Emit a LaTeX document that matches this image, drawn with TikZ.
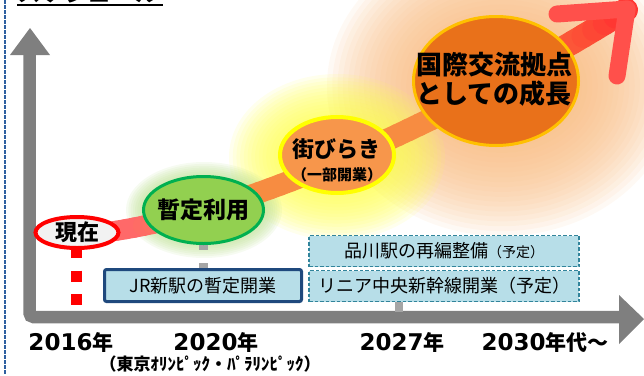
\documentclass[tikz,border=0pt]{standalone}
\usepackage{fontspec}
\setmainfont{DejaVu Sans}
\newfontfamily\jp{Noto Sans CJK JP}
\newfontfamily\dv{DejaVu Sans}
\usetikzlibrary{shapes.geometric}

\definecolor{axisgray}{RGB}{127,127,127}
\definecolor{tickgray}{RGB}{165,165,165}
\definecolor{boxfill}{RGB}{183,222,232}
\definecolor{boxdark}{RGB}{31,73,125}
\definecolor{boxteal}{RGB}{49,132,155}
\definecolor{leftdash}{RGB}{46,95,160}
\definecolor{nowred}{RGB}{255,0,0}
\definecolor{nowfill}{RGB}{242,242,242}
\definecolor{tmpgreen}{RGB}{0,176,80}
\definecolor{tmpfill}{RGB}{146,208,80}
\definecolor{openyellow}{RGB}{255,255,0}
\definecolor{openfill}{RGB}{247,150,75}
\definecolor{intlgold}{RGB}{255,192,0}
\definecolor{intlfill}{RGB}{233,113,26}
\definecolor{bandA}{RGB}{255,105,105}
\definecolor{bandB}{RGB}{247,140,65}
\definecolor{bandC}{RGB}{255,55,50}
\definecolor{headc}{RGB}{255,80,75}
\definecolor{glowpeach}{RGB}{248,185,125}
\definecolor{glowyellow}{RGB}{255,255,80}
\definecolor{glowgreen}{RGB}{185,222,140}

\begin{document}
\begin{tikzpicture}[x=1pt,y=-1pt,
  axisline/.style={axisgray, line width=12.5pt, rounded corners=4pt},
  tickline/.style={tickgray, line width=8pt},
  jptext/.style={font={\jp\bfseries\fontsize{#1}{#1}\selectfont}, inner sep=0pt},
  yearlbl/.style={anchor=base, inner sep=0pt},
  solidbox/.style={draw=boxdark, line width=3pt, fill=boxfill, rounded corners=2pt, inner sep=0pt},
  dashbox/.style={draw=boxteal, line width=1.4pt, dash pattern=on 3.5pt off 2pt, fill=boxfill, inner sep=0pt, minimum width=270pt, minimum height=31pt},
  bubble/.style={ellipse, inner sep=0pt},
]
\useasboundingbox (0,0) rectangle (644,375);
\clip (0,0) rectangle (644,375);

% title (cut off at the top) and left dashed border
\node[anchor=base west, inner sep=0pt, font={\jp\bfseries\fontsize{24}{24}\selectfont}] (title) at (17,1.5) {スケジュール};
\coordinate (ulA) at (17,5);
\coordinate (ulB) at (163,5);
\draw[line width=1.5pt] (ulA) -- (ulB);
\coordinate (bdA) at (5,0);
\coordinate (bdB) at (5,375);
\draw[leftdash, line width=1.5pt, dash pattern=on 3.5pt off 1.5pt] (bdA) -- (bdB);

% axes
\coordinate (ytop) at (29.5,53);
\coordinate (origin) at (29.5,317);
\coordinate (xend) at (621,317);
\draw[axisline] (ytop) -- (origin) -- (xend);
\fill[axisgray] (30,28) -- (50,55) -- (10,55) -- cycle;
\fill[axisgray] (644,319) -- (619,295) -- (619,344) -- cycle;

% soft glows (stacked translucent rings)
\foreach \i in {0,...,18}{
  \pgfmathsetmacro{\grx}{80+95*\i/18}
  \pgfmathsetmacro{\gry}{62+88*\i/18}
  \fill[glowpeach, fill opacity=0.085] (502,86) ellipse [x radius=\grx pt, y radius=\gry pt];
}
\foreach \i in {0,...,14}{
  \pgfmathsetmacro{\grx}{56+52*\i/14}
  \pgfmathsetmacro{\gry}{37+46*\i/14}
  \fill[glowyellow, fill opacity=0.1] (337,157) ellipse [x radius=\grx pt, y radius=\gry pt];
}
\foreach \i in {0,...,8}{
  \pgfmathsetmacro{\grx}{60+18*\i/8}
  \pgfmathsetmacro{\gry}{33+15*\i/8}
  \fill[glowgreen, fill opacity=0.12] (204,210) ellipse [x radius=\grx pt, y radius=\gry pt];
}

% growth band (cubic Bezier sampled, coloured segment by segment)
\foreach \k in {0,...,50}{
  \pgfmathsetmacro{\bt}{\k/50}
  \pgfmathsetmacro{\bu}{1-\bt}
  \pgfmathsetmacro{\bx}{\bu*\bu*\bu*108+3*\bu*\bu*\bt*250+3*\bu*\bt*\bt*450+\bt*\bt*\bt*626}
  \pgfmathsetmacro{\by}{\bu*\bu*\bu*232+3*\bu*\bu*\bt*212+3*\bu*\bt*\bt*120+\bt*\bt*\bt*10}
  \coordinate (bp\k) at (\bx,\by);
}
\foreach \k [remember=\k as \kp (initially 0)] in {1,...,50}{
  \ifnum\k<5 \colorlet{segc}{bandA}%
  \else\ifnum\k<17 \pgfmathtruncatemacro{\bpc}{100-(\k-4)*100/12}\colorlet{segc}{bandA!\bpc!bandB}%
  \else\ifnum\k<40 \colorlet{segc}{bandB}%
  \else \pgfmathtruncatemacro{\bpc}{(\k-39)*100/11}\colorlet{segc}{bandC!\bpc!bandB}\fi\fi\fi
  \pgfmathsetmacro{\bwd}{20+\k*0.08}
  \draw[segc, line width=\bwd pt, line cap=round] (bp\kp) -- (bp\k);
}
\coordinate (tip) at (627,9);
\coordinate (tipL) at (557,14);
\coordinate (tipD) at (617,76);
\draw[headc, line width=17pt, line cap=round] (tipL) -- (tip);
\draw[headc, line width=17pt, line cap=round] (tip) -- (tipD);

% ticks
\coordinate (t20a) at (203,244);
\coordinate (t20b) at (203,270);
\draw[tickline, line width=9pt, dash pattern=on 6pt off 13pt] (t20a) -- (t20b);
\coordinate (t27a) at (399,300);
\coordinate (t27b) at (399,312);
\draw[tickline] (t27a) -- (t27b);

% red dotted line from now
\coordinate (nowend) at (76,306);
\coordinate (nowstart) at (76,247);
\draw[nowred, line width=11pt, dash pattern=on 11pt off 12.5pt] (nowstart) -- (nowend);

% milestone bubbles
\node[bubble, draw=nowred, line width=4pt, fill=nowfill, minimum width=83pt, minimum height=31pt] (now) at (77,232.5) {};
\node[jptext=22] (nowtxt) at (now.center) {現在};

\node[bubble, draw=tmpgreen, line width=3pt, fill=tmpfill, minimum width=120pt, minimum height=67pt] (tmp) at (203.5,210) {};
\node[jptext=23] (tmptxt) at (tmp.center) {暫定利用};

\node[bubble, draw=openyellow, line width=4pt, fill=openfill, minimum width=114pt, minimum height=76pt] (open) at (337,155) {};
\node[jptext=22] (opentxt) at (336,149) {街びらき};
\node[jptext=15] (opensub) at (337,175) {（一部開業）};

\node[bubble, draw=intlgold, line width=3pt, fill=intlfill, minimum width=165pt, minimum height=129pt] (intl) at (496,81) {};
\node[jptext=26] (intltxt1) at (494,65) {国際交流拠点};
\node[jptext=26] (intltxt2) at (494,94) {としての成長};

% boxes
\node[solidbox, minimum width=197pt, minimum height=32pt] (jrbox) at (203,285.5)
  {\jp\fontsize{18}{18}\selectfont JR新駅の暫定開業};
\node[dashbox] (shbox) at (444,251)
  {\jp\fontsize{18}{18}\selectfont 品川駅の再編整備{\fontsize{14}{14}\selectfont （予定）}};
\node[dashbox] (linbox) at (444,286)
  {\jp\fontsize{18}{18}\selectfont リニア中央新幹線開業（予定）};

% year labels
\node[yearlbl] (y2016) at (71,350) {{\dv\bfseries\fontsize{23}{23}\selectfont 2016}{\jp\bfseries\fontsize{21}{21}\selectfont 年}};
\node[yearlbl] (y2020) at (216,350) {{\dv\bfseries\fontsize{23}{23}\selectfont 2020}{\jp\bfseries\fontsize{21}{21}\selectfont 年}};
\node[yearlbl] (y2027) at (402,350) {{\dv\bfseries\fontsize{23}{23}\selectfont 2027}{\jp\bfseries\fontsize{21}{21}\selectfont 年}};
\node[yearlbl] (y2030) at (545,350) {{\dv\bfseries\fontsize{23}{23}\selectfont 2030}{\jp\bfseries\fontsize{21}{21}\selectfont 年代～}};
\node[jptext=17] (olymp) at (210,364) {（東京ｵﾘﾝﾋﾟｯｸ・ﾊﾟﾗﾘﾝﾋﾟｯｸ）};
\end{tikzpicture}
\end{document}
